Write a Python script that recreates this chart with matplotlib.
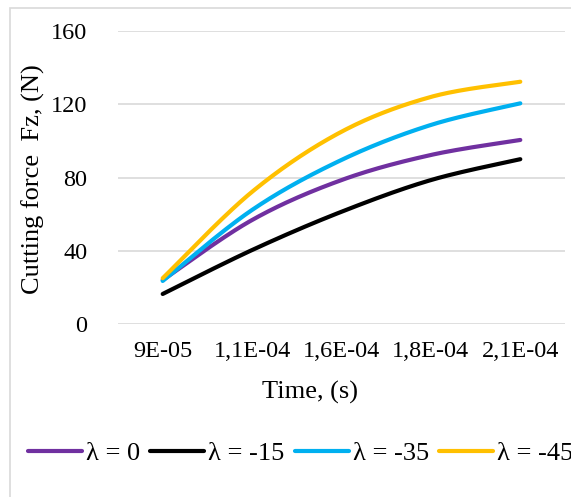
import matplotlib
matplotlib.use('Agg')
import matplotlib.pyplot as plt
from matplotlib.patches import Rectangle
import numpy as np

plt.rcParams['font.family'] = ['Liberation Serif', 'DejaVu Serif']

# data
time_labels = ['9E-05', '1,1E-04', '1,6E-04', '1,8E-04', '2,1E-04']
fz_lam0 = [24.0, 56.8, 78.6, 92.3, 100.5]
fz_lam15 = [16.4, 40.4, 61.3, 78.6, 90.0]
fz_lam35 = [23.5, 62.3, 89.6, 108.7, 120.5]
fz_lam45 = [25.0, 72.2, 105.0, 124.0, 132.3]

series = [
    ('λ = 0', fz_lam0, '#7030A0'),
    ('λ = -15', fz_lam15, '#000000'),
    ('λ = -35', fz_lam35, '#00B0F0'),
    ('λ = -45', fz_lam45, '#FFC000'),
]


def smooth(xs, ys, n=40):
    # Excel-like smoothed line (Bezier through points, tension 1/6)
    p = np.column_stack([xs, ys]).astype(float)
    ext = np.vstack([p[0], p, p[-1]])
    out = []
    for i in range(len(p) - 1):
        p0, p1, p2, p3 = ext[i], ext[i + 1], ext[i + 2], ext[i + 3]
        c1 = p1 + (p2 - p0) / 6
        c2 = p2 - (p3 - p1) / 6
        t = np.linspace(0, 1, n)[:, None]
        seg = ((1 - t) ** 3) * p1 + 3 * ((1 - t) ** 2) * t * c1 + 3 * (1 - t) * t ** 2 * c2 + t ** 3 * p2
        out.append(seg if i == 0 else seg[1:])
    out = np.vstack(out)
    return out[:, 0], out[:, 1]


W, H = 571, 497
fig = plt.figure(figsize=(W / 100, H / 100), dpi=100)
ax = fig.add_axes([118 / W, 1 - 324 / H, (565 - 118) / W, (324 - 31) / H])

x = np.arange(len(time_labels))
for name, vals, col in series:
    sx, sy = smooth(x, vals)
    ax.plot(sx, sy, color=col, lw=3, solid_capstyle='round', label=name, zorder=3)

ax.set_xlim(-0.5, len(time_labels) - 0.5)
ax.set_ylim(0, 160)
ax.set_yticks([0, 40, 80, 120, 160])
ax.set_xticks(x)
ax.set_xticklabels(time_labels)
ax.grid(axis='y', color='#d9d9d9', lw=1.2)
ax.set_axisbelow(True)
for s in ax.spines.values():
    s.set_visible(False)
ax.tick_params(axis='both', length=0, labelsize=17.5)
ax.tick_params(axis='y', pad=22)
ax.tick_params(axis='x', pad=12)

fig.text(33 / W, 1 - 179 / H, 'Cutting force  Fz, (N)', rotation=90,
         ha='center', va='center', fontsize=19)
fig.text(310 / W, 1 - 392 / H, 'Time, (s)', ha='center', va='center', fontsize=19)

fig.legend(loc='center left', bbox_to_anchor=(28 / W, 1 - 453 / H), ncol=4,
           frameon=False, fontsize=19, handlelength=2.05, handletextpad=0.15,
           columnspacing=0.38, borderpad=0, borderaxespad=0)

fig.add_artist(Rectangle((10 / W, -0.1), 1.2, 1.1 - 8 / H, transform=fig.transFigure,
                         fill=False, edgecolor='#d9d9d9', lw=1.2))

fig.savefig('out.png', dpi=100)
